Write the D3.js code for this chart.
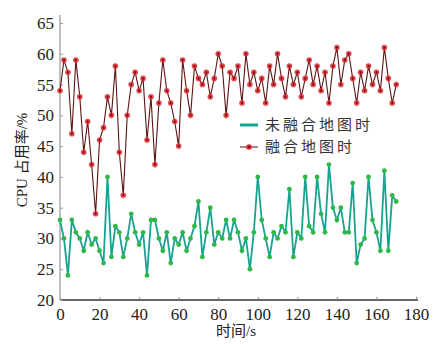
<!DOCTYPE html>
<meta charset="utf-8">
<script src="https://d3js.org/d3.v7.min.js"></script>
<style>
  body { margin: 0; background: #fff; }
  svg { display: block; }
</style>
<body>
<div id="chart"></div>
<script>

// seconds, one sample every 2 s
const times = d3.range(0, 171, 2);

// CPU usage without map fusion (%)
const noFusion = [33, 30, 24, 33, 31, 30, 28, 31, 29, 30, 28, 26, 40, 27, 32, 31, 27, 30, 34, 31,
  29, 31, 24, 33, 33, 30, 28, 31, 26, 30, 29, 31, 28, 30, 32, 36, 27, 31, 35, 29,
  31, 30, 33, 30, 33, 31, 28, 30, 25, 31, 40, 33, 30, 27, 31, 30, 32, 31, 38, 27,
  31, 30, 40, 32, 31, 40, 34, 31, 42, 35, 33, 35, 31, 31, 39, 26, 29, 30, 40, 33,
  31, 28, 41, 28, 37, 36];

// CPU usage with map fusion (%)
const withFusion = [54, 59, 57, 47, 59, 53, 44, 49, 42, 34, 46, 48, 53, 50, 58, 44, 37, 50, 55, 57,
  54, 56, 46, 53, 42, 52, 59, 54, 52, 49, 45, 59, 54, 50, 58, 56, 55, 57, 53, 56,
  60, 58, 50, 57, 56, 58, 52, 60, 55, 57, 54, 56, 52, 58, 55, 60, 56, 53, 58, 55,
  57, 53, 56, 59, 55, 58, 54, 57, 52, 58, 61, 55, 59, 60, 56, 52, 57, 54, 58, 55,
  57, 54, 61, 56, 52, 55];

const xTicks = [0, 20, 40, 60, 80, 100, 120, 140, 160, 180];
const yTicks = [20, 25, 30, 35, 40, 45, 50, 55, 60, 65];
const legendLabels = ["未融合地图时", "融合地图时"];

const width = 445, height = 344;
const svg = d3.select("#chart").append("svg")
  .attr("width", width)
  .attr("height", height);

const x = d3.scaleLinear().domain([0, 180]).range([60, 416]);
const y = d3.scaleLinear().domain([20, 65]).range([300, 23]);

// axes
const xAxis = svg.append("g")
  .attr("transform", `translate(0, ${y(20)})`)
  .call(d3.axisBottom(x).tickValues(xTicks).tickSize(-3).tickSizeOuter(0).tickPadding(8));
xAxis.select(".domain").attr("stroke", "#333").attr("stroke-width", 1.5)
  .attr("d", `M${x(0)},0H${x(180) + 2}`);
xAxis.selectAll(".tick line").attr("stroke", "#888");

const yAxis = svg.append("g")
  .attr("transform", `translate(${x(0)}, 0)`)
  .call(d3.axisLeft(y).tickValues(yTicks).tickSize(-3).tickSizeOuter(0).tickPadding(6));
yAxis.select(".domain").attr("stroke", "#aaa").attr("stroke-width", 1.5)
  .attr("d", `M0,15V${y(20)}`);
yAxis.selectAll(".tick line").attr("stroke", "#999");

svg.selectAll(".tick text")
  .attr("font-family", "'Liberation Serif', 'DejaVu Serif', serif")
  .attr("font-size", 17)
  .attr("fill", "#222");

// axis titles
svg.append("text")
  .attr("x", 236).attr("y", 336)
  .attr("text-anchor", "middle")
  .attr("font-family", "'Liberation Serif', 'Noto Sans CJK SC', serif")
  .attr("font-size", 15)
  .attr("fill", "#222")
  .text("时间/s");

svg.append("text")
  .attr("transform", "translate(27, 160) rotate(-90)")
  .attr("text-anchor", "middle")
  .attr("font-family", "'Liberation Serif', 'Noto Sans CJK SC', serif")
  .attr("font-size", 15)
  .attr("fill", "#222")
  .text("CPU 占用率/%");

const line = d3.line()
  .x((d, i) => x(times[i]))
  .y(d => y(d));

// green series
svg.append("path")
  .datum(noFusion)
  .attr("fill", "none")
  .attr("stroke", "#17a38f")
  .attr("stroke-width", 1.8)
  .attr("d", line);

svg.append("g").selectAll("circle")
  .data(noFusion)
  .join("circle")
    .attr("cx", (d, i) => x(times[i]))
    .attr("cy", d => y(d))
    .attr("r", 2.4)
    .attr("fill", "#2fb84a");

// red series
svg.append("path")
  .datum(withFusion)
  .attr("fill", "none")
  .attr("stroke", "#5e1414")
  .attr("stroke-width", 1.1)
  .attr("d", line);

const redPts = svg.append("g").selectAll("g")
  .data(withFusion)
  .join("g")
    .attr("transform", (d, i) => `translate(${x(times[i])}, ${y(d)})`);
redPts.append("circle").attr("r", 2.8).attr("fill", "#e0262e").attr("opacity", 0.85);
redPts.append("circle").attr("r", 1).attr("fill", "#5a1010");

// legend
const legend = svg.append("g");
legend.append("line")
  .attr("x1", 240).attr("x2", 258).attr("y1", 125).attr("y2", 125)
  .attr("stroke", "#17a38f").attr("stroke-width", 3);
legend.append("line")
  .attr("x1", 240).attr("x2", 258).attr("y1", 147).attr("y2", 147)
  .attr("stroke", "#5e1414").attr("stroke-width", 1);
legend.append("circle").attr("cx", 249).attr("cy", 147).attr("r", 2.8).attr("fill", "#e0262e");
legend.append("circle").attr("cx", 249).attr("cy", 147).attr("r", 1).attr("fill", "#5a1010");

legend.selectAll("text")
  .data(legendLabels)
  .join("text")
    .attr("x", 265)
    .attr("y", (d, i) => 125 + i * 22)
    .attr("dy", "0.35em")
    .attr("font-family", "'Noto Sans CJK SC', sans-serif")
    .attr("font-size", 15)
    .attr("letter-spacing", 3)
    .attr("fill", "#333")
    .text(d => d);

</script>
</body>
